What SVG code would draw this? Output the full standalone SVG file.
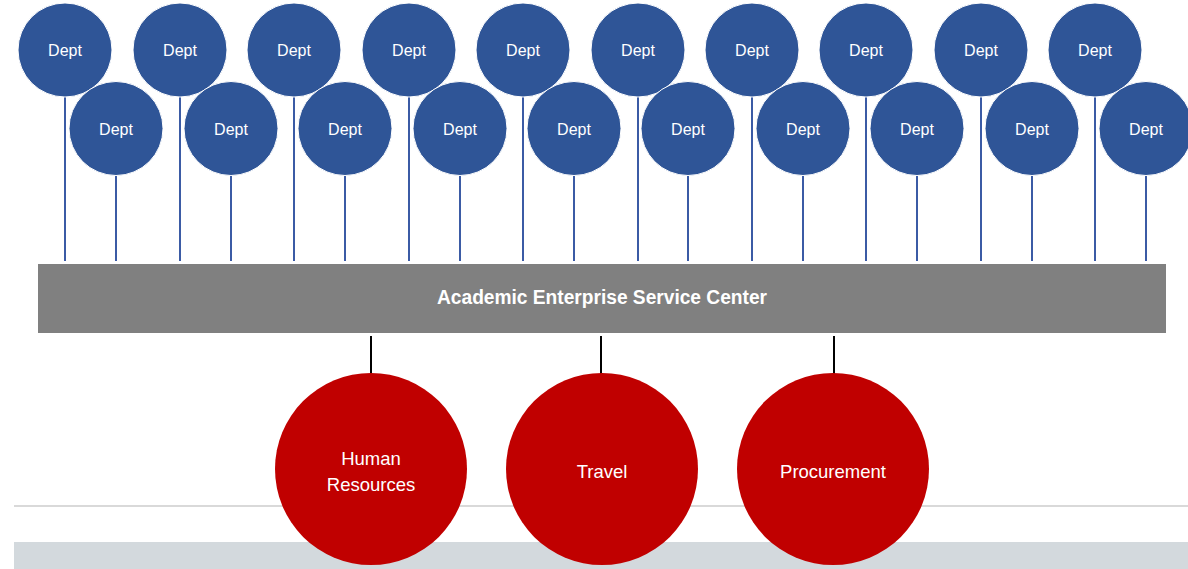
<svg xmlns="http://www.w3.org/2000/svg" width="1188" height="569" viewBox="0 0 1188 569">
<style>
.dept{fill:#2f5597;stroke:#fff;stroke-width:1}
.dt{font-family:"Liberation Sans",Arial,sans-serif;font-size:16px;fill:#fff;text-anchor:middle}
.vl{stroke:#3b5ba5;stroke-width:2}
.bl{stroke:#000;stroke-width:2}
.red{fill:#c00000}
.rt{font-family:"Liberation Sans",Arial,sans-serif;font-size:18.5px;fill:#fff;text-anchor:middle}
</style>
<rect x="0" y="0" width="1188" height="569" fill="#fff"/>
<g id="background">
<line x1="14" y1="506" x2="1188" y2="506" stroke="#d9d9d9" stroke-width="2"/>
<rect x="14" y="542" width="1174" height="27" fill="#d3d9dd"/>
</g>
<g id="connectors">
<line class="vl" x1="65" y1="97" x2="65" y2="261"/>
<line class="vl" x1="180" y1="97" x2="180" y2="261"/>
<line class="vl" x1="294" y1="97" x2="294" y2="261"/>
<line class="vl" x1="409" y1="97" x2="409" y2="261"/>
<line class="vl" x1="523" y1="97" x2="523" y2="261"/>
<line class="vl" x1="638" y1="97" x2="638" y2="261"/>
<line class="vl" x1="752" y1="97" x2="752" y2="261"/>
<line class="vl" x1="866" y1="97" x2="866" y2="261"/>
<line class="vl" x1="981" y1="97" x2="981" y2="261"/>
<line class="vl" x1="1095" y1="97" x2="1095" y2="261"/>
<line class="vl" x1="116" y1="175" x2="116" y2="261"/>
<line class="vl" x1="231" y1="175" x2="231" y2="261"/>
<line class="vl" x1="345" y1="175" x2="345" y2="261"/>
<line class="vl" x1="460" y1="175" x2="460" y2="261"/>
<line class="vl" x1="574" y1="175" x2="574" y2="261"/>
<line class="vl" x1="688" y1="175" x2="688" y2="261"/>
<line class="vl" x1="803" y1="175" x2="803" y2="261"/>
<line class="vl" x1="917" y1="175" x2="917" y2="261"/>
<line class="vl" x1="1032" y1="175" x2="1032" y2="261"/>
<line class="vl" x1="1146" y1="175" x2="1146" y2="261"/>
<line class="bl" x1="371" y1="336" x2="371" y2="374"/>
<line class="bl" x1="601" y1="336" x2="601" y2="374"/>
<line class="bl" x1="834" y1="336" x2="834" y2="374"/>
</g>
<g id="dept1"><circle class="dept" cx="65" cy="50" r="47"/><text class="dt" x="65" y="56">Dept</text></g>
<g id="dept2"><circle class="dept" cx="116" cy="128.5" r="47"/><text class="dt" x="116" y="134.5">Dept</text></g>
<g id="dept3"><circle class="dept" cx="180" cy="50" r="47"/><text class="dt" x="180" y="56">Dept</text></g>
<g id="dept4"><circle class="dept" cx="231" cy="128.5" r="47"/><text class="dt" x="231" y="134.5">Dept</text></g>
<g id="dept5"><circle class="dept" cx="294" cy="50" r="47"/><text class="dt" x="294" y="56">Dept</text></g>
<g id="dept6"><circle class="dept" cx="345" cy="128.5" r="47"/><text class="dt" x="345" y="134.5">Dept</text></g>
<g id="dept7"><circle class="dept" cx="409" cy="50" r="47"/><text class="dt" x="409" y="56">Dept</text></g>
<g id="dept8"><circle class="dept" cx="460" cy="128.5" r="47"/><text class="dt" x="460" y="134.5">Dept</text></g>
<g id="dept9"><circle class="dept" cx="523" cy="50" r="47"/><text class="dt" x="523" y="56">Dept</text></g>
<g id="dept10"><circle class="dept" cx="574" cy="128.5" r="47"/><text class="dt" x="574" y="134.5">Dept</text></g>
<g id="dept11"><circle class="dept" cx="638" cy="50" r="47"/><text class="dt" x="638" y="56">Dept</text></g>
<g id="dept12"><circle class="dept" cx="688" cy="128.5" r="47"/><text class="dt" x="688" y="134.5">Dept</text></g>
<g id="dept13"><circle class="dept" cx="752" cy="50" r="47"/><text class="dt" x="752" y="56">Dept</text></g>
<g id="dept14"><circle class="dept" cx="803" cy="128.5" r="47"/><text class="dt" x="803" y="134.5">Dept</text></g>
<g id="dept15"><circle class="dept" cx="866" cy="50" r="47"/><text class="dt" x="866" y="56">Dept</text></g>
<g id="dept16"><circle class="dept" cx="917" cy="128.5" r="47"/><text class="dt" x="917" y="134.5">Dept</text></g>
<g id="dept17"><circle class="dept" cx="981" cy="50" r="47"/><text class="dt" x="981" y="56">Dept</text></g>
<g id="dept18"><circle class="dept" cx="1032" cy="128.5" r="47"/><text class="dt" x="1032" y="134.5">Dept</text></g>
<g id="dept19"><circle class="dept" cx="1095" cy="50" r="47"/><text class="dt" x="1095" y="56">Dept</text></g>
<g id="dept20"><circle class="dept" cx="1146" cy="128.5" r="47"/><text class="dt" x="1146" y="134.5">Dept</text></g>
<g id="service-center">
<rect x="38" y="264" width="1128" height="69" fill="#808080"/>
<text x="602" y="304" font-family="Liberation Sans,Arial,sans-serif" font-size="20" font-weight="bold" fill="#fff" text-anchor="middle" textLength="330" lengthAdjust="spacingAndGlyphs">Academic Enterprise Service Center</text>
</g>
<g id="hr"><circle class="red" cx="371" cy="469" r="96"/><text class="rt" x="371" y="465">Human</text><text class="rt" x="371" y="491">Resources</text></g>
<g id="travel"><circle class="red" cx="602" cy="469" r="96"/><text class="rt" x="602" y="478">Travel</text></g>
<g id="procurement"><circle class="red" cx="833" cy="469" r="96"/><text class="rt" x="833" y="478">Procurement</text></g>
</svg>
